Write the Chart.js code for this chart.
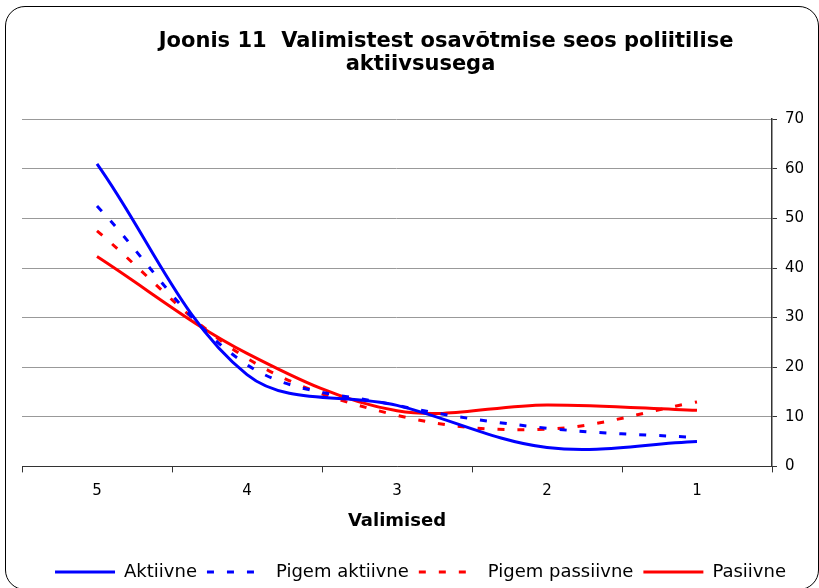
<!DOCTYPE html>
<html lang="et">
<head>
    <meta charset="UTF-8">
    <title>Joonis 11</title>
    <script src="https://cdn.jsdelivr.net/npm/chart.js"></script>
    <style>
        body {
            margin: 0;
            padding: 0;
            background: #fff;
            overflow: hidden;
        }

        .wrap {
            position: relative;
            width: 819px;
            height: 588px;
            overflow: hidden;
        }

        .frame {
            position: absolute;
            box-sizing: border-box;
            left: 5px;
            top: 6px;
            width: 814px;
            height: 584px;
            border: 1px solid #000;
            border-radius: 20px;
            pointer-events: none;
        }

        canvas {
            position: absolute;
            left: 0;
            top: 0;
        }
    </style>
</head>
<body>
    <div class="wrap">
        <canvas id="chart" width="819" height="588"></canvas>
        <div class="frame"></div>
    </div>

    <script>
        // kategooriad (valimised)
        const categories = ['5', '4', '3', '2', '1'];

        // seeriad, %
        const aktiivne = [61, 18.5, 12.3, 3.8, 5];
        const pigemAktiivne = [52.5, 20.5, 12.3, 7.7, 5.8];
        const pigemPassiivne = [47.5, 21.8, 10.3, 7.5, 13];
        const passiivne = [42.3, 22.8, 11.2, 12.4, 11.3];

        const yTicks = [0, 10, 20, 30, 40, 50, 60, 70];

        const blue = '#0000ff';
        const red = '#ff0000';
        const dots = [7, 13];

        Chart.defaults.font.family = '"DejaVu Sans", Verdana, sans-serif';
        Chart.defaults.color = '#000';

        function line(label, data, color, dash) {
            return {
                label: label,
                data: data,
                borderColor: color,
                backgroundColor: color,
                borderWidth: 3,
                borderDash: dash,
                pointRadius: 0,
                tension: 0.35,
                fill: false
            };
        }

        new Chart(document.getElementById('chart'), {
            type: 'line',
            data: {
                labels: categories,
                datasets: [
                    line('Aktiivne', aktiivne, blue, []),
                    line('Pigem aktiivne', pigemAktiivne, blue, dots),
                    line('Pigem passiivne', pigemPassiivne, red, dots),
                    line('Pasiivne', passiivne, red, [])
                ]
            },
            options: {
                responsive: false,
                animation: false,
                layout: {
                    padding: { left: 22, right: 0, top: 0, bottom: -3 }
                },
                plugins: {
                    title: {
                        display: true,
                        // first line sits a bit right of centre in the original
                        text: ['\u00a0\u00a0\u00a0\u00a0\u00a0\u00a0\u00a0Joonis 11  Valimistest osavõtmise seos poliitilise', 'aktiivsusega'],
                        font: { size: 21, weight: 'bold', lineHeight: 1.1 },
                        padding: { top: 30, bottom: 43 }
                    },
                    legend: {
                        position: 'bottom',
                        labels: {
                            usePointStyle: true,
                            pointStyle: 'line',
                            pointStyleWidth: 60,
                            font: { size: 18 },
                            padding: 10,
                            generateLabels: chart => {
                                const items = Chart.defaults.plugins.legend.labels.generateLabels(chart);
                                items.forEach(it => {
                                    const ds = chart.data.datasets[it.datasetIndex];
                                    it.lineDash = ds.borderDash;
                                    it.lineWidth = 3;
                                    it.strokeStyle = ds.borderColor;
                                    it.pointStyle = 'line';
                                });
                                return items;
                            }
                        }
                    },
                    tooltip: { enabled: false }
                },
                scales: {
                    x: {
                        offset: true,
                        grid: {
                            offset: true,
                            drawOnChartArea: false,
                            drawTicks: true,
                            tickLength: 6,
                            tickColor: '#333'
                        },
                        border: { display: true, color: '#333', width: 1 },
                        ticks: {
                            font: { size: 15 },
                            padding: 10
                        },
                        title: {
                            display: true,
                            text: 'Valimised',
                            font: { size: 18, weight: 'bold' },
                            padding: { top: 0, bottom: 21 }
                        }
                    },
                    y: {
                        position: 'right',
                        min: 0,
                        max: 70,
                        afterBuildTicks: s => { s.ticks = yTicks.map(v => ({ value: v })); },
                        afterFit: s => { s.width = 47; },
                        grid: {
                            color: '#999',
                            tickLength: 5,
                            tickColor: '#333'
                        },
                        border: { display: true, color: '#333', width: 1.5 },
                        ticks: {
                            font: { size: 15 },
                            padding: 8
                        }
                    }
                }
            }
        });
    </script>
</body>
</html>
